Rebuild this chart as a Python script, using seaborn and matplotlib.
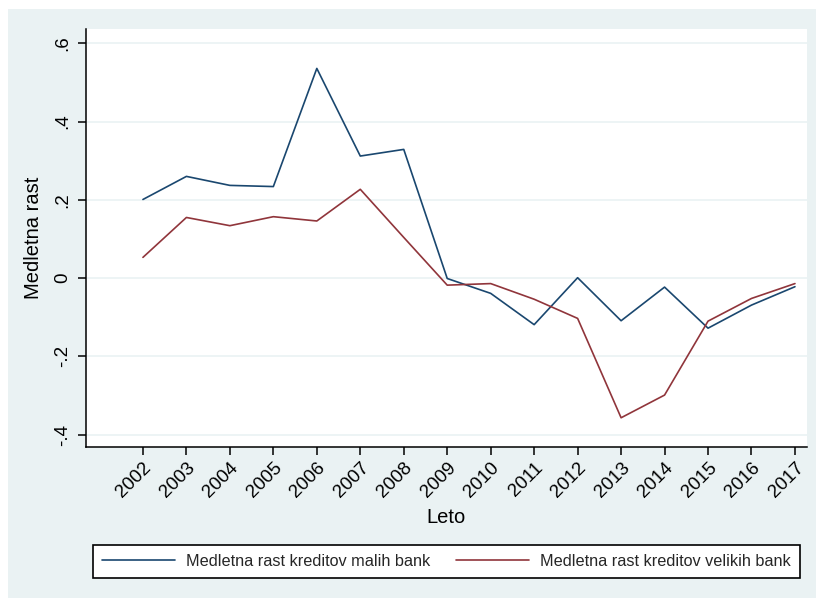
import matplotlib
matplotlib.use("Agg")
import matplotlib.pyplot as plt
import matplotlib.patches as mpatches
import seaborn as sns
import pandas as pd

years = list(range(2002, 2018))
small_banks = [0.201, 0.260, 0.237, 0.234, 0.536, 0.312, 0.329, -0.001,
               -0.039, -0.119, 0.001, -0.109, -0.023, -0.128, -0.069, -0.022]
large_banks = [0.053, 0.155, 0.134, 0.157, 0.146, 0.227, 0.104, -0.018,
               -0.014, -0.054, -0.103, -0.357, -0.299, -0.110, -0.052, -0.014]
series_names = ["Medletna rast kreditov malih bank",
                "Medletna rast kreditov velikih bank"]
y_ticks = [-0.4, -0.2, 0.0, 0.2, 0.4, 0.6]
y_tick_labels = ["-.4", "-.2", "0", ".2", ".4", ".6"]

df = pd.DataFrame({
    "Leto": years * 2,
    "value": small_banks + large_banks,
    "series": [series_names[0]] * len(years) + [series_names[1]] * len(years),
})

sns.set_theme(style="white")
plt.rcParams["font.family"] = ["Liberation Sans", "DejaVu Sans"]

BG = "#EAF2F3"
fig = plt.figure(figsize=(8.16, 5.99), dpi=100)
fig.patch.set_facecolor("white")
fig.patches.append(mpatches.Rectangle((8 / 816, 1 / 599), 1 - 8 / 816, 589 / 599,
                                      transform=fig.transFigure, facecolor=BG,
                                      edgecolor="none", zorder=-10))

ax = fig.add_axes([86 / 816, 1 - 447.3 / 599, (806.7 - 86) / 816, (447.3 - 29.3) / 599])
ax.set_facecolor("white")

sns.lineplot(data=df, x="Leto", y="value", hue="series",
             palette=["#1a476f", "#90353b"], linewidth=1.2, ax=ax, legend=False)

ax.set_xlim(2000.69, 2017.27)
ax.set_ylim(-0.4325, 0.636)
ax.set_yticks(y_ticks)
ax.set_yticklabels(y_tick_labels, rotation=90, va="center", fontsize=13.5)
ax.set_xticks(years)
ax.set_xticklabels([str(y) for y in years], rotation=45, ha="right",
                   rotation_mode="anchor", fontsize=13.5)
ax.tick_params(axis="both", direction="out", length=5.8, width=1.1,
               color="black", labelcolor="black", bottom=True, left=True)
ax.tick_params(axis="y", pad=5)
ax.tick_params(axis="x", pad=3)
ax.grid(axis="y", color=BG, linewidth=1.2)
ax.set_axisbelow(True)
for s in ["top", "right"]:
    ax.spines[s].set_visible(False)
for s in ["left", "bottom"]:
    ax.spines[s].set_color("black")
    ax.spines[s].set_linewidth(1.1)

ax.set_ylabel("Medletna rast", fontsize=14.5, color="black", labelpad=8)
ax.set_xlabel("Leto", fontsize=14.5, color="black", labelpad=5)

handles = [plt.Line2D([], [], color="#1a476f", linewidth=1.2),
           plt.Line2D([], [], color="#90353b", linewidth=1.2)]
leg = fig.legend(handles, series_names, loc="lower left",
                 bbox_to_anchor=(92.7 / 816, 1 - 577.5 / 599, (800 - 92.7) / 816, 38.5 / 599),
                 mode="expand", ncol=2, fontsize=11.7, handlelength=4.5,
                 handletextpad=0.68, borderaxespad=0, borderpad=0.55,
                 fancybox=False, frameon=True)
leg.get_frame().set_edgecolor("black")
leg.get_frame().set_linewidth(1.2)
leg.get_frame().set_facecolor("white")
leg.get_frame().set_alpha(1)

fig.savefig("out.png", dpi=100, facecolor="white")
